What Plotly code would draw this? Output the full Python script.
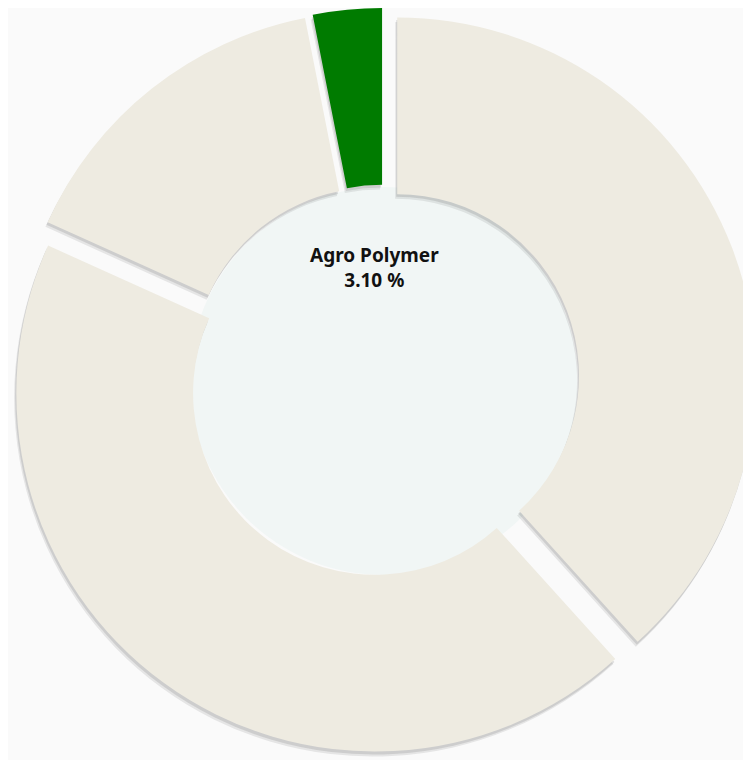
import plotly.graph_objects as go

# clockwise from 12 o'clock
labels = ["Segment 1", "Segment 2", "Segment 3", "Agro Polymer"]
values = [38.30, 43.45, 15.15, 3.10]
colors = ["#eeebe1", "#eeebe1", "#eeebe1", "#007b00"]
pulls = [0.041, 0.041, 0.041, 0.041]

W, H = 751, 760
# page is drawn with an 8px body margin, so work in figure pixels
cx, cy, half = 375.5, 373.0, 373.4


def dom(dx=0.0, dy=0.0):
    x0 = (cx + dx - half) / W
    x1 = (cx + dx + half) / W
    y0 = 1 - (cy + dy + half) / H
    y1 = 1 - (cy + dy - half) / H
    return dict(x=[max(x0, 0), min(x1, 1)], y=[max(y0, 0), min(y1, 1)])


fig = go.Figure()

# soft drop shadow, two layers
for dx, dy, a in [(-2, 5, 0.12), (-1, 3, 0.16)]:
    fig.add_trace(go.Pie(
        labels=labels, values=values, hole=0.507, sort=False,
        direction="clockwise", rotation=0, pull=pulls,
        marker=dict(colors=[f"rgba(80,80,80,{a})"] * 4, line=dict(width=0)),
        textinfo="none", hoverinfo="skip", showlegend=False,
        domain=dom(dx, dy),
    ))

fig.add_trace(go.Pie(
    labels=labels, values=values, hole=0.507, sort=False,
    direction="clockwise", rotation=0, pull=pulls,
    marker=dict(colors=colors, line=dict(width=0)),
    textinfo="none", hoverinfo="label+percent", showlegend=False,
    domain=dom(),
))

fig.add_annotation(
    x=366 / W, y=1 - 260 / H, xref="paper", yref="paper", showarrow=False,
    text="<b>Agro Polymer<br>3.10 %</b>",
    font=dict(family="Noto Sans, Open Sans, sans-serif", size=19, color="#111111"),
    align="center",
)

hr = 194
fig.update_layout(
    width=W, height=H,
    margin=dict(l=0, r=0, t=0, b=0),
    paper_bgcolor="#fafafa",
    plot_bgcolor="#fafafa",
    shapes=[
        # pale centre of the ring
        dict(type="circle", xref="paper", yref="paper",
             x0=(cx - hr) / W, x1=(cx + hr) / W,
             y0=1 - (cy + hr) / H, y1=1 - (cy - hr) / H,
             fillcolor="#f1f6f5", line=dict(width=0), layer="below"),
    ],
)

fig.write_html("out.html")
